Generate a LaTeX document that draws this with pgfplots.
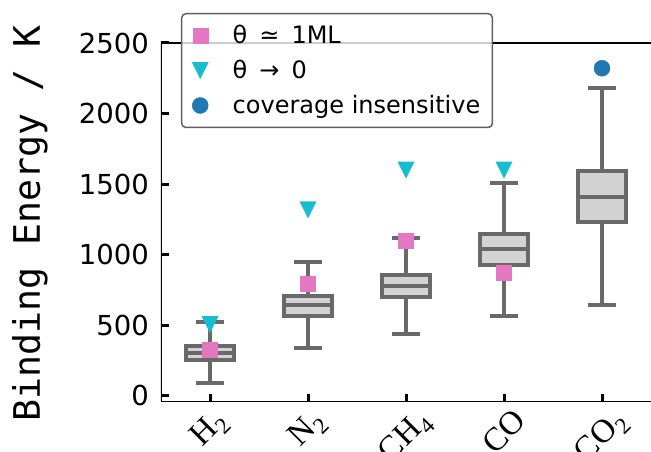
\documentclass[border=0pt]{standalone}
\usepackage{fontspec}
\usepackage{graphicx}
\usepackage{pgfplots}
\usepackage{pgfplotstable}
\pgfplotsset{compat=1.18}

\newfontfamily\dvs{DejaVu Sans}
\newfontfamily\dvsm{DejaVu Sans Mono}
\newfontfamily\lser{Liberation Serif}

\definecolor{boxedge}{RGB}{105,105,105}
\definecolor{boxfill}{RGB}{211,211,211}
\definecolor{mlpink}{RGB}{227,119,194}
\definecolor{lowcyan}{RGB}{23,190,207}
\definecolor{insblue}{RGB}{31,119,180}
\definecolor{legedge}{RGB}{95,95,95}

% downward triangle, as wide as it is tall, centred on the point
\pgfdeclareplotmark{tridown}{%
  \pgfpathmoveto{\pgfqpoint{0pt}{-\pgfplotmarksize}}%
  \pgfpathlineto{\pgfqpoint{\pgfplotmarksize}{\pgfplotmarksize}}%
  \pgfpathlineto{\pgfqpoint{-\pgfplotmarksize}{\pgfplotmarksize}}%
  \pgfpathclose\pgfusepathqfill}

\newcommand\sub[1]{\raisebox{-0.22em}{\fontsize{23}{24}\selectfont #1}}
% legend entry with a fixed row height, text raised to sit centred on the marker
\newcommand\lentry[1]{\rule{0pt}{29.4pt}\raisebox{6.3pt}{#1}}

\pgfplotsset{bxline/.style={forget plot, draw=boxedge, line width=4pt, mark=none, solid}}

% one box-and-whisker: position, lower whisker, lower quartile, median,
% upper quartile, upper whisker
\newcommand\statbox[6]{%
  \pgfmathsetmacro\bxl{#1-0.245}\pgfmathsetmacro\bxr{#1+0.245}%
  \pgfmathsetmacro\cxl{#1-0.1425}\pgfmathsetmacro\cxr{#1+0.1425}%
  \addplot[bxline] coordinates {(#1,#2) (#1,#3)};
  \addplot[bxline] coordinates {(#1,#5) (#1,#6)};
  \addplot[bxline] coordinates {(\cxl,#2) (\cxr,#2)};
  \addplot[bxline] coordinates {(\cxl,#6) (\cxr,#6)};
  \addplot[bxline, fill=boxfill] coordinates {(\bxl,#3) (\bxr,#3) (\bxr,#5) (\bxl,#5)} -- cycle;
  \addplot[bxline] coordinates {(\bxl,#4) (\bxr,#4)};
}

% binding energies at monolayer coverage
\pgfplotstableread{
x y
0 324
1 791
2 1100
3 872
}\monolayer
% binding energies in the low-coverage limit
\pgfplotstableread{
x y
0 504
1 1317
2 1599
3 1598
}\lowcov
% coverage-insensitive value
\pgfplotstableread{
x y
4 2321
}\insens

\begin{document}
\begin{tikzpicture}
\begin{axis}[
  at={(161pt,50pt)}, anchor=south west,
  scale only axis, width=490pt, height=359pt,
  xmin=-0.5, xmax=4.5, ymin=-45, ymax=2500,
  axis line style={draw=none},
  xtick={0,1,2,3,4},
  xticklabels={\rotatebox{45}{H\sub{2}}, \rotatebox{45}{N\sub{2}}, \rotatebox{45}{CH\sub{4}}, \rotatebox{45}{CO}, \rotatebox{45}{CO\sub{2}}},
  ytick={0,500,1000,1500,2000,2500},
  tick pos=left, tick align=inside,
  major tick length=8pt,
  tick style={line width=3pt, black},
  /pgf/number format/assume math mode=true,
  /pgf/number format/1000 sep={},
  yticklabel style={font=\fontsize{27.5}{33}\selectfont\dvs, inner sep=0pt, anchor=east, xshift=-12pt},
  xticklabel style={font=\fontsize{33}{38}\selectfont\lser, inner sep=0pt, anchor=north, yshift=-5pt},
  ylabel={Binding Energy / K},
  ylabel style={font=\fontsize{36.5}{42}\selectfont\dvsm, at={(axis description cs:-0.247,0.497)}, anchor=base},
  legend cell align=left,
  legend style={at={(axis description cs:0.0408,1.0836)}, anchor=north west,
    font=\fontsize{24}{29}\selectfont\dvs,
    draw=legedge, line width=1.5pt, rounded corners=4pt,
    fill=white, fill opacity=0.8, text opacity=1,
    inner xsep=10pt, inner ysep=4.5pt, column sep=22pt},
  legend image code/.code={%
    \draw[mark repeat=2, mark phase=2, #1, sharp corners, fill opacity=1, draw opacity=1]
      plot coordinates {(0cm,0cm) (0.3cm,0cm) (0.6cm,0cm)};},
]
% left, bottom and top spines
\draw[line width=2pt, black] (rel axis cs:1,1) -- (rel axis cs:0,1) -- (rel axis cs:0,0) -- (rel axis cs:1,0);

\statbox{0}{88}{255}{303}{350}{521}
\statbox{1}{336}{568}{643}{709}{946}
\statbox{2}{438}{698}{778}{854}{1117}
\statbox{3}{568}{929}{1038}{1145}{1507}
\statbox{4}{641}{1232}{1407}{1592}{2181}

\addplot[only marks, mark=square*, mark size=7.5pt,
  mark options={fill=mlpink, draw=mlpink, line width=0.4pt, sharp corners}] table {\monolayer};
\addlegendentry{\lentry{θ\hspace{0.5em}≃\hspace{0.5em}1ML}}
\addplot[only marks, mark=tridown, mark size=8.5pt,
  mark options={fill=lowcyan, draw=lowcyan, line width=0.4pt, sharp corners}] table {\lowcov};
\addlegendentry{\lentry{θ\hspace{0.5em}→\hspace{0.5em}0}}
\addplot[only marks, mark=*, mark size=8pt,
  mark options={fill=insblue, draw=insblue, line width=0.4pt}] table {\insens};
\addlegendentry{\lentry{coverage insensitive}}
\end{axis}
\pgfresetboundingbox
\path[use as bounding box] (0,0) rectangle (651pt,452pt);
\end{tikzpicture}
\end{document}
